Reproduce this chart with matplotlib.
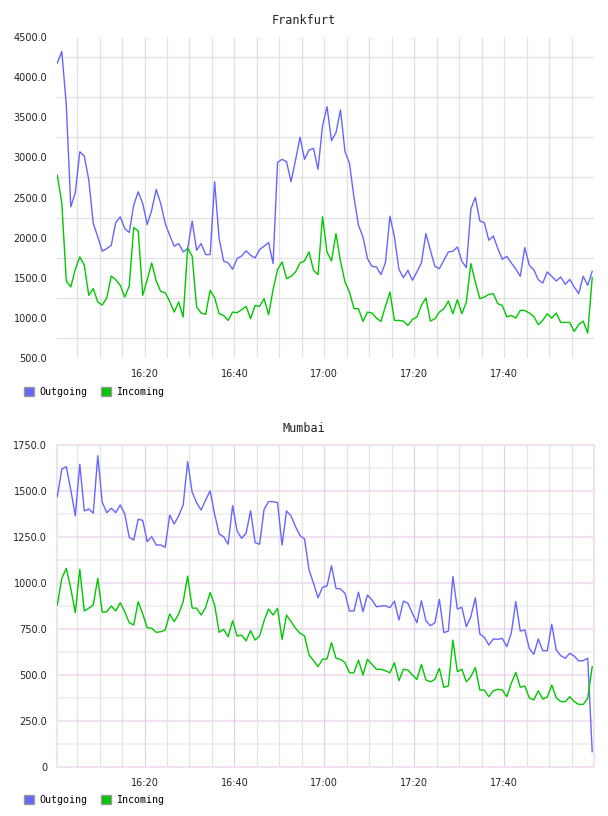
import matplotlib
matplotlib.use("Agg")
import matplotlib.pyplot as plt
import numpy as np
from matplotlib.patches import Patch

# one sample per minute, first sample at 16:00:36
t0 = 0.6
time_labels = ["16:20", "16:40", "17:00", "17:20", "17:40"]
label_minutes = [20, 40, 60, 80, 100]

frankfurt_out = [4172, 4317, 3650, 2384, 2560, 3070, 3016, 2717, 2177, 2010,
                 1832, 1865, 1906, 2189, 2260, 2114, 2065, 2405, 2571, 2426,
                 2164, 2343, 2601, 2426, 2177, 2031, 1894, 1927, 1823, 1865,
                 2206, 1844, 1927, 1790, 1790, 2696, 1990, 1710, 1686, 1607,
                 1740, 1773, 1836, 1782, 1748, 1852, 1894, 1940, 1678, 2937,
                 2975, 2945, 2696, 2966, 3249, 2975, 3090, 3111, 2850, 3390,
                 3631, 3207, 3307, 3590, 3070, 2925, 2500, 2156, 2010, 1740,
                 1644, 1636, 1541, 1690, 2268, 2010, 1607, 1503, 1594, 1470,
                 1574, 1686, 2051, 1844, 1644, 1615, 1719, 1823, 1831, 1885,
                 1707, 1628, 2355, 2501, 2210, 2185, 1968, 2022, 1865, 1732,
                 1769, 1686, 1611, 1520, 1877, 1657, 1603, 1478, 1436, 1574,
                 1520, 1461, 1511, 1420, 1482, 1387, 1304, 1520, 1408, 1582]
frankfurt_in = [2779, 2426, 1461, 1387, 1607, 1761, 1657, 1283, 1367, 1200,
                1162, 1250, 1524, 1478, 1408, 1262, 1399, 2127, 2085, 1283,
                1478, 1686, 1461, 1333, 1316, 1208, 1075, 1200, 1013, 1873,
                1769, 1137, 1063, 1046, 1345, 1254, 1054, 1033, 971, 1075,
                1067, 1104, 1146, 992, 1158, 1146, 1242, 1042, 1354, 1603,
                1698, 1491, 1520, 1574, 1686, 1711, 1823, 1594, 1541, 2260,
                1823, 1711, 2051, 1707, 1449, 1324, 1117, 1117, 958, 1075,
                1063, 1000, 958, 1146, 1324, 971, 971, 963, 909, 984,
                1013, 1158, 1250, 963, 992, 1075, 1117, 1212, 1054, 1229,
                1054, 1200, 1678, 1449, 1242, 1262, 1295, 1304, 1179, 1158,
                1013, 1033, 1000, 1096, 1096, 1063, 1021, 917, 971, 1054,
                1000, 1063, 946, 946, 946, 834, 921, 963, 813, 1503]

mumbai_out = [1469, 1619, 1632, 1505, 1365, 1645, 1391, 1402, 1379, 1692,
              1438, 1382, 1406, 1382, 1424, 1375, 1248, 1233, 1346, 1340,
              1224, 1251, 1206, 1206, 1194, 1369, 1320, 1365, 1424, 1659,
              1493, 1436, 1396, 1451, 1500, 1373, 1266, 1251, 1210, 1420,
              1282, 1242, 1270, 1393, 1219, 1210, 1400, 1442, 1442, 1436,
              1206, 1391, 1364, 1306, 1257, 1239, 1070, 998, 919, 976,
              983, 1093, 970, 967, 943, 847, 847, 949, 843, 934,
              907, 870, 874, 876, 865, 901, 798, 901, 889, 834,
              783, 903, 794, 767, 783, 911, 729, 738, 1034, 858,
              867, 762, 816, 919, 722, 704, 662, 695, 693, 698,
              653, 726, 898, 738, 744, 644, 611, 695, 631, 631,
              775, 635, 604, 590, 617, 602, 575, 577, 590, 82]
mumbai_in = [880, 1025, 1079, 970, 838, 1074, 847, 862, 880, 1025,
             840, 843, 874, 847, 892, 843, 783, 771, 898, 831,
             756, 753, 731, 734, 744, 831, 789, 831, 898, 1037,
             863, 862, 825, 867, 947, 880, 731, 747, 707, 794,
             711, 716, 685, 740, 689, 711, 794, 858, 825, 862,
             693, 825, 789, 753, 726, 711, 608, 577, 544, 584,
             586, 675, 590, 584, 566, 511, 511, 580, 499, 584,
             557, 530, 530, 522, 511, 566, 468, 530, 526, 499,
             475, 557, 472, 462, 475, 535, 432, 439, 689, 517,
             530, 462, 490, 539, 417, 417, 381, 413, 421, 417,
             381, 454, 513, 432, 439, 375, 363, 413, 368, 378,
             444, 375, 354, 354, 381, 354, 339, 339, 372, 544]

minutes = t0 + np.arange(len(frankfurt_out))

BLUE = "#6666ff"
GREEN = "#00c800"
W, H = 608, 816

fig = plt.figure(figsize=(W / 100, H / 100), dpi=100)


def axes_px(left, top, right, bottom):
    return fig.add_axes([left / W, 1 - bottom / H, (right - left) / W, (bottom - top) / H])


def common(ax, out, inc):
    ax.set_xlim(0.53, 120.0)
    ax.set_xticks(label_minutes)
    ax.set_xticklabels(time_labels)
    ax.tick_params(length=0, labelsize=7, pad=8, colors="#222222")
    ax.tick_params(axis="y", pad=7)
    ax.plot(minutes, out, color=BLUE, lw=1.0, zorder=3)
    ax.plot(minutes, inc, color=GREEN, lw=1.0, zorder=3)


def legend(top_px):
    handles = [Patch(facecolor=BLUE, edgecolor="#999999", lw=1.0, label="Outgoing"),
               Patch(facecolor=GREEN, edgecolor="#999999", lw=1.0, label="Incoming")]
    fig.legend(handles=handles, loc="upper left", bbox_to_anchor=(24 / W, 1 - top_px / H),
               frameon=False, ncol=2, handlelength=1.0, handleheight=1.0,
               handletextpad=0.5, columnspacing=1.4, borderpad=0, borderaxespad=0,
               prop={"family": "DejaVu Sans Mono", "size": 7.2})


# Frankfurt
ax1 = axes_px(57, 36.7, 594, 358.3)
ax1.set_ylim(500, 4500)
ax1.set_yticks(np.arange(500, 4501, 500))
ax1.set_yticklabels([f"{v:.1f}" for v in np.arange(500, 4501, 500)])
for v in np.arange(750, 4500, 500):
    ax1.axhline(v, color="#e2e2e2", lw=0.9, zorder=1)
for m in range(5, 120, 5):
    ax1.axvline(m, color="#e2e2e2", lw=0.9, zorder=1)
for s in ax1.spines.values():
    s.set_visible(False)
common(ax1, frankfurt_out, frankfurt_in)
fig.text(0.5, 1 - 20 / H, "Frankfurt", ha="center", va="center",
         family="DejaVu Sans Mono", size=8.5, color="#222222")
legend(387)

# Mumbai
ax2 = axes_px(57, 445, 594, 766.7)
ax2.set_ylim(0, 1750)
ax2.set_yticks(np.arange(0, 1751, 250))
ax2.set_yticklabels(["0"] + [f"{v:.1f}" for v in np.arange(250, 1751, 250)])
for v in np.arange(125, 1750, 250):
    ax2.axhline(v, color="#f1f1f1", lw=1.6, zorder=1)
for v in np.arange(250, 1750, 250):
    ax2.axhline(v, color="#f0e2f0", lw=1.6, zorder=1)
for m in range(5, 120, 5):
    if m % 20 == 0:
        ax2.axvline(m, color="#dfd0e2", lw=0.9, zorder=1)
    else:
        ax2.axvline(m, color="#e4e4e4", lw=0.9, zorder=1)
for s in ax2.spines.values():
    s.set_color("#f0e2f0")
    s.set_linewidth(1.4)
common(ax2, mumbai_out, mumbai_in)
fig.text(0.5, 1 - 428 / H, "Mumbai", ha="center", va="center",
         family="DejaVu Sans Mono", size=8.5, color="#222222")
legend(795)

fig.savefig("out.png", dpi=100)
